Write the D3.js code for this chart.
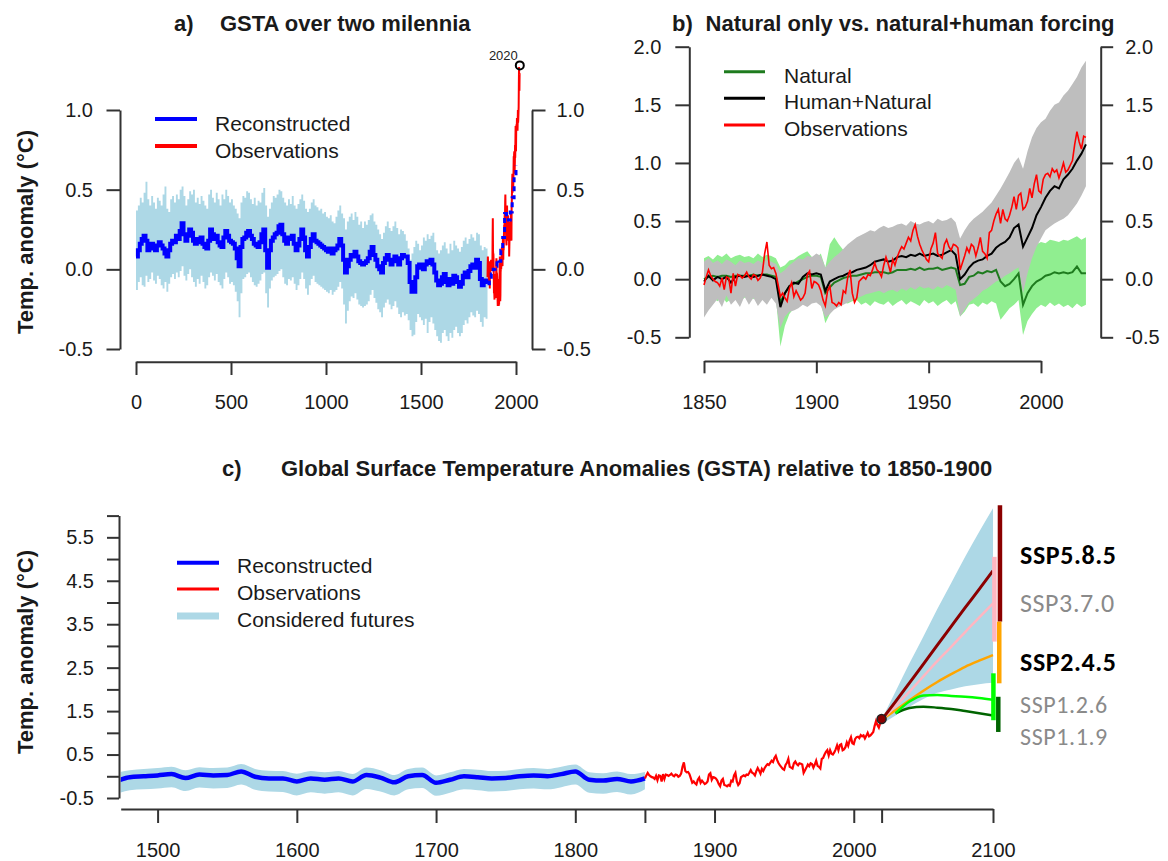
<!DOCTYPE html>
<html><head><meta charset="utf-8">
<script src="https://cdn.jsdelivr.net/npm/d3@7"></script>
<style>
body{margin:0;background:#fff}
svg{display:block}
</style></head><body>
<svg id="chart" width="1168" height="861"></svg>
<script>
// ---------------- DATA ----------------
// Panel a: reconstruction (10-year steps, years 0..2000)
const reconAYears = d3.range(0, 2001, 10);
const reconA = [
0.08,0.12,0.16,0.19,0.21,0.18,0.12,0.14,0.16,0.13,
0.12,0.15,0.17,0.15,0.13,0.10,0.08,0.12,0.16,0.18,
0.17,0.21,0.19,0.24,0.29,0.22,0.18,0.21,0.25,0.23,
0.18,0.16,0.19,0.17,0.20,0.16,0.14,0.13,0.18,0.25,
0.22,0.19,0.21,0.17,0.15,0.14,0.20,0.24,0.21,0.18,
0.17,0.16,0.13,0.07,0.02,0.14,0.19,0.20,0.23,0.24,
0.21,0.19,0.16,0.15,0.14,0.17,0.22,0.25,0.12,0.01,
0.12,0.18,0.20,0.22,0.23,0.27,0.28,0.22,0.18,0.16,
0.20,0.19,0.21,0.16,0.12,0.15,0.19,0.25,0.20,0.12,
0.08,0.14,0.19,0.22,0.18,0.17,0.16,0.15,0.14,0.13,
0.12,0.11,0.13,0.10,0.12,0.13,0.15,0.19,0.15,0.06,
-0.02,0.02,0.06,0.09,0.08,0.11,0.08,0.05,0.04,0.03,
0.04,0.05,0.07,0.11,0.14,0.09,0.06,0.02,0.00,-0.02,
0.04,0.07,0.09,0.06,0.03,0.05,0.08,0.05,0.03,0.07,
0.09,0.08,0.08,0.04,-0.08,-0.14,-0.14,-0.05,0.02,0.03,
0.01,0.00,0.03,0.05,0.04,0.06,0.03,-0.02,-0.07,-0.10,
-0.09,-0.05,-0.03,-0.08,-0.10,-0.06,-0.09,-0.04,-0.05,-0.08,
-0.11,-0.09,-0.04,-0.02,-0.05,-0.01,0.02,0.03,0.01,0.06,
0.04,-0.06,-0.10,-0.08,-0.07,-0.09,-0.05,-0.03,0.00,0.02,
0.06,0.05,0.12,0.20,0.35,0.33,0.31,0.36,0.45,0.60,
0.65];
// Panel a: uncertainty band (years 0..1850)
const bandAYears = d3.range(0, 1851, 10);
const bandAHi = [
0.37,0.40,0.45,0.42,0.48,0.55,0.44,0.40,0.46,0.42,
0.38,0.45,0.43,0.40,0.47,0.52,0.38,0.36,0.44,0.46,
0.42,0.47,0.44,0.50,0.52,0.46,0.40,0.44,0.49,0.47,
0.50,0.42,0.45,0.41,0.46,0.43,0.40,0.38,0.47,0.50,
0.45,0.42,0.48,0.44,0.40,0.47,0.44,0.50,0.46,0.42,
0.44,0.40,0.38,0.35,0.32,0.42,0.46,0.45,0.49,0.48,
0.44,0.41,0.45,0.40,0.43,0.42,0.48,0.51,0.40,0.33,
0.38,0.42,0.46,0.45,0.47,0.50,0.49,0.45,0.42,0.40,
0.44,0.41,0.46,0.40,0.38,0.41,0.44,0.47,0.43,0.38,
0.36,0.38,0.42,0.44,0.40,0.39,0.37,0.38,0.35,0.36,
0.33,0.32,0.34,0.30,0.29,0.33,0.37,0.40,0.35,0.32,
0.25,0.30,0.33,0.35,0.31,0.36,0.33,0.28,0.30,0.26,
0.30,0.28,0.31,0.34,0.35,0.30,0.28,0.25,0.22,0.19,
0.23,0.27,0.30,0.26,0.24,0.27,0.30,0.26,0.22,0.25,
0.24,0.22,0.18,0.13,0.06,0.10,0.14,0.18,0.16,0.12,
0.15,0.20,0.18,0.22,0.19,0.21,0.23,0.17,0.12,0.10,
0.12,0.15,0.17,0.13,0.10,0.16,0.12,0.18,0.15,0.13,
0.11,0.14,0.18,0.20,0.16,0.19,0.22,0.20,0.18,0.23,
0.22,0.15,0.12,0.14,0.13,0.10];
const bandALo = [
-0.13,-0.08,-0.05,-0.10,-0.11,-0.04,-0.08,-0.06,-0.02,-0.07,
-0.09,-0.04,-0.06,-0.10,-0.12,-0.08,-0.14,-0.09,-0.05,-0.03,
-0.06,-0.02,-0.05,-0.01,0.02,-0.04,-0.07,-0.03,0.00,-0.05,
-0.08,-0.11,-0.06,-0.09,-0.04,-0.08,-0.12,-0.10,-0.05,-0.02,
-0.04,-0.07,-0.03,-0.08,-0.10,-0.12,-0.06,-0.02,-0.05,-0.09,
-0.08,-0.10,-0.14,-0.20,-0.30,-0.15,-0.06,-0.05,-0.03,-0.02,
-0.05,-0.08,-0.10,-0.11,-0.09,-0.07,-0.03,-0.02,-0.15,-0.24,
-0.12,-0.07,-0.05,-0.04,-0.03,-0.01,0.00,-0.05,-0.09,-0.10,
-0.06,-0.07,-0.05,-0.09,-0.13,-0.10,-0.06,-0.02,-0.06,-0.12,
-0.16,-0.10,-0.06,-0.04,-0.08,-0.09,-0.10,-0.11,-0.12,-0.13,
-0.14,-0.15,-0.13,-0.16,-0.14,-0.13,-0.11,-0.08,-0.12,-0.22,
-0.34,-0.26,-0.20,-0.17,-0.18,-0.15,-0.19,-0.22,-0.23,-0.24,
-0.23,-0.22,-0.20,-0.16,-0.13,-0.18,-0.21,-0.25,-0.27,-0.30,
-0.24,-0.21,-0.19,-0.22,-0.25,-0.23,-0.20,-0.24,-0.28,-0.30,
-0.27,-0.29,-0.28,-0.32,-0.38,-0.42,-0.41,-0.33,-0.28,-0.30,
-0.32,-0.35,-0.31,-0.40,-0.33,-0.30,-0.34,-0.38,-0.42,-0.45,
-0.46,-0.40,-0.38,-0.42,-0.45,-0.40,-0.43,-0.38,-0.36,-0.40,
-0.42,-0.40,-0.35,-0.32,-0.34,-0.30,-0.27,-0.29,-0.30,-0.26,
-0.28,-0.33,-0.36,-0.30,-0.31,-0.25];
const markA = [{year: 2020, value: 1.28, label: "2020"}];

// Observations (annual, 1850..2020, relative to 1850-1900)
const obsYears = d3.range(1850, 2021);
const obs = [
-0.05,0.02,0.08,0.03,0.00,-0.02,-0.03,-0.06,0.01,-0.09,
0.02,0.01,-0.12,0.05,-0.06,0.04,0.03,0.01,0.03,0.06,
0.02,0.00,0.04,0.03,-0.01,0.01,0.06,0.22,0.32,0.12,
0.09,0.10,0.05,-0.05,-0.15,-0.12,-0.16,-0.19,-0.08,-0.03,
-0.15,-0.10,-0.14,-0.18,-0.16,-0.12,0.04,0.07,-0.08,-0.02,
-0.03,-0.05,-0.10,-0.18,-0.23,-0.10,-0.06,-0.20,-0.21,-0.23,
-0.20,-0.22,-0.10,-0.12,0.02,0.08,-0.12,-0.20,-0.16,-0.02,
0.00,0.02,0.00,0.04,0.03,0.08,0.14,0.08,0.06,0.02,
0.12,0.19,0.13,0.06,0.17,0.12,0.19,0.24,0.28,0.26,
0.31,0.36,0.33,0.42,0.47,0.37,0.30,0.25,0.21,0.17,
0.15,0.26,0.31,0.40,0.22,0.20,0.18,0.30,0.34,0.28,
0.25,0.30,0.29,0.27,0.08,0.14,0.20,0.27,0.23,0.30,
0.28,0.20,0.27,0.36,0.24,0.22,0.18,0.40,0.42,0.50,
0.56,0.60,0.48,0.60,0.52,0.50,0.55,0.62,0.71,0.60,
0.72,0.74,0.60,0.62,0.67,0.78,0.70,0.82,0.90,0.76,
0.74,0.86,0.90,0.91,0.88,0.95,0.92,0.94,0.87,0.93,
1.00,0.92,0.94,0.98,1.02,1.16,1.27,1.18,1.12,1.23,
1.22];

// Panel b: model simulations (2-year steps 1850..2020)
const simYears = d3.range(1850, 2021, 2);
const natLine = [
0.00,0.02,0.03,0.02,0.03,0.03,0.02,0.03,0.03,0.03,
0.03,0.04,0.03,0.04,0.04,0.03,0.02,-0.20,-0.12,-0.06,
-0.04,-0.02,0.00,0.02,0.03,0.03,0.02,-0.12,-0.07,-0.03,
-0.01,0.01,0.02,0.03,0.03,0.04,0.05,0.05,0.06,0.06,
0.06,0.05,0.06,0.08,0.08,0.08,0.09,0.08,0.10,0.08,
0.09,0.09,0.10,0.08,0.09,0.10,0.09,-0.05,-0.04,0.02,
0.03,0.06,0.05,0.07,0.06,0.08,-0.02,-0.06,-0.04,0.00,
0.05,-0.22,-0.12,-0.06,-0.02,0.00,0.03,0.04,0.06,0.05,
0.06,0.05,0.06,0.11,0.05,0.05];
const natHi = [
0.18,0.20,0.17,0.21,0.19,0.22,0.18,0.20,0.21,0.19,
0.20,0.18,0.22,0.19,0.21,0.20,0.18,0.10,0.12,0.16,
0.17,0.20,0.22,0.24,0.19,0.18,0.22,0.10,0.30,0.36,
0.30,0.25,0.24,0.22,0.20,0.23,0.24,0.22,0.25,0.24,
0.24,0.26,0.25,0.27,0.28,0.27,0.28,0.30,0.29,0.28,
0.30,0.29,0.31,0.28,0.30,0.31,0.29,0.15,0.18,0.24,
0.26,0.28,0.27,0.29,0.28,0.30,0.20,0.18,0.22,0.26,
0.28,0.10,0.18,0.24,0.30,0.32,0.31,0.34,0.33,0.32,
0.34,0.33,0.35,0.37,0.34,0.36];
const natLo = [
-0.18,-0.20,-0.16,-0.19,-0.15,-0.20,-0.17,-0.14,-0.19,-0.16,
-0.15,-0.17,-0.14,-0.16,-0.15,-0.14,-0.16,-0.58,-0.40,-0.30,
-0.25,-0.22,-0.18,-0.20,-0.17,-0.18,-0.20,-0.38,-0.30,-0.25,
-0.22,-0.20,-0.21,-0.19,-0.18,-0.22,-0.20,-0.23,-0.19,-0.21,
-0.22,-0.19,-0.23,-0.20,-0.18,-0.22,-0.19,-0.21,-0.23,-0.18,
-0.21,-0.19,-0.23,-0.20,-0.18,-0.22,-0.19,-0.32,-0.28,-0.22,
-0.21,-0.24,-0.20,-0.22,-0.19,-0.21,-0.35,-0.30,-0.25,-0.22,
-0.18,-0.48,-0.36,-0.30,-0.25,-0.22,-0.24,-0.20,-0.23,-0.21,
-0.24,-0.22,-0.25,-0.21,-0.24,-0.22];
const hnLine = [
-0.02,0.03,-0.01,0.02,0.00,0.02,-0.03,0.02,0.03,0.02,
0.03,0.02,0.03,0.04,0.03,0.02,0.00,-0.24,-0.12,-0.06,
-0.03,-0.04,0.02,0.05,0.04,0.05,0.04,-0.10,-0.02,0.00,
0.02,0.03,0.05,0.06,0.08,0.09,0.10,0.12,0.15,0.16,
0.17,0.15,0.16,0.19,0.20,0.19,0.21,0.20,0.22,0.20,
0.21,0.22,0.20,0.21,0.23,0.25,0.21,0.00,0.04,0.10,
0.14,0.16,0.17,0.20,0.22,0.27,0.30,0.32,0.36,0.44,
0.47,0.28,0.36,0.44,0.55,0.62,0.70,0.76,0.80,0.78,
0.86,0.90,0.95,1.02,1.08,1.16];
const hnHi = [
0.15,0.18,0.14,0.16,0.13,0.17,0.15,0.12,0.16,0.14,
0.15,0.13,0.16,0.14,0.17,0.15,0.13,0.05,0.08,0.12,
0.15,0.18,0.17,0.20,0.19,0.22,0.20,0.10,0.15,0.19,
0.22,0.26,0.30,0.33,0.36,0.38,0.40,0.42,0.41,0.44,
0.46,0.44,0.45,0.47,0.48,0.46,0.50,0.48,0.47,0.49,
0.50,0.48,0.52,0.50,0.51,0.53,0.49,0.35,0.42,0.48,
0.52,0.55,0.58,0.62,0.66,0.72,0.78,0.85,0.92,1.00,
1.05,0.95,1.10,1.22,1.30,1.35,1.38,1.45,1.50,1.52,
1.58,1.62,1.68,1.74,1.82,1.88];
const hnLo = [
-0.33,-0.27,-0.22,-0.17,-0.24,-0.14,-0.22,-0.18,-0.24,-0.15,
-0.22,-0.16,-0.23,-0.18,-0.22,-0.16,-0.21,-0.42,-0.32,-0.28,
-0.27,-0.25,-0.22,-0.24,-0.21,-0.20,-0.23,-0.33,-0.30,-0.26,
-0.24,-0.22,-0.20,-0.18,-0.16,-0.15,-0.13,-0.12,-0.11,-0.10,
-0.12,-0.10,-0.09,-0.11,-0.08,-0.10,-0.07,-0.09,-0.06,-0.08,
-0.07,-0.09,-0.06,-0.08,-0.05,-0.07,-0.09,-0.32,-0.26,-0.20,
-0.17,-0.14,-0.10,-0.08,-0.05,-0.02,0.00,0.03,0.05,0.08,
0.10,-0.12,0.05,0.18,0.28,0.35,0.42,0.45,0.48,0.50,
0.52,0.55,0.60,0.65,0.72,0.80];

// Panel c: reconstruction 1470..1850 (10-year)
const reconCYears = d3.range(1470, 1851, 10);
const reconC = [
-0.12,-0.02,0.00,0.02,0.05,-0.04,0.04,0.02,0.03,0.11,
-0.01,-0.05,-0.05,-0.12,-0.05,-0.08,-0.05,-0.12,0.03,-0.03,
-0.14,0.00,0.03,-0.15,-0.08,0.00,-0.02,-0.05,-0.04,0.00,
0.02,0.00,0.05,0.11,-0.08,-0.10,-0.06,-0.12,-0.05];
const reconCHi = [
0.08,0.14,0.17,0.19,0.22,0.14,0.21,0.19,0.20,0.28,
0.17,0.13,0.12,0.06,0.12,0.09,0.12,0.05,0.20,0.14,
0.03,0.17,0.20,0.02,0.09,0.17,0.15,0.12,0.13,0.17,
0.19,0.17,0.22,0.27,0.09,0.07,0.11,0.05,0.10];
const reconCLo = [
-0.42,-0.32,-0.30,-0.28,-0.25,-0.34,-0.26,-0.28,-0.27,-0.19,
-0.31,-0.35,-0.36,-0.44,-0.37,-0.40,-0.37,-0.44,-0.29,-0.35,
-0.44,-0.30,-0.27,-0.45,-0.38,-0.30,-0.32,-0.35,-0.34,-0.30,
-0.28,-0.30,-0.25,-0.19,-0.38,-0.40,-0.36,-0.42,-0.30];
// Panel c: futures
const futYears = [2020,2030,2040,2050,2060,2070,2080,2090,2100];
const futHi = [1.30,1.95,2.60,3.22,3.85,4.45,5.05,5.62,6.17];
const futLo = [1.20,1.40,1.60,1.78,1.92,2.00,2.07,2.12,2.15];
const ssp585 = [1.30,1.72,2.15,2.58,3.02,3.45,3.88,4.30,4.73];
const ssp370 = [1.30,1.62,1.95,2.30,2.65,2.98,3.32,3.65,3.98];
const ssp245 = [1.30,1.52,1.75,1.97,2.17,2.35,2.52,2.66,2.79];
const lowYears = [2030,2040,2050,2060,2070,2080,2090,2100];
const ssp126 = [1.45,1.72,1.86,1.87,1.85,1.83,1.80,1.76];
const ssp119 = [1.45,1.57,1.60,1.58,1.55,1.50,1.45,1.40];
const markC = [{year: 2020, value: 1.32}];
// SSP ranges at 2100 (bars) and labels
const sspNames  = ["SSP5.8.5","SSP3.7.0","SSP2.4.5","SSP1.2.6","SSP1.1.9"];
const sspColors = ["#8B0000","#FFB6C1","#FFA500","#00FF00","#006400"];
const sspBarYear = [2105, 2101, 2104.5, 2100.3, 2103.8];
const sspBarLo = [3.56, 3.10, 2.14, 1.29, 1.02];
const sspBarHi = [6.24, 5.05, 3.56, 2.37, 1.83];
const sspLabelAt = [5.09, 3.98, 2.63, 1.64, 0.91];
const sspLabelBold = [true, false, true, false, false];
const sspLabelColor = ["#000", "#8a8a8a", "#000", "#8a8a8a", "#8a8a8a"];
const sspLabelSize = [26, 26, 26, 24, 24];

// tick values
const aYTicks = [-0.5, 0, 0.5, 1.0];
const aXTicks = [0, 500, 1000, 1500, 2000];
const bYTicks = [-0.5, 0, 0.5, 1.0, 1.5, 2.0];
const bXTicks = [1850, 1900, 1950, 2000];
const cYTicks = [-0.5,0,0.5,1,1.5,2,2.5,3,3.5,4,4.5,5,5.5,6];
const cXTicks = [1500,1600,1700,1800,1850,1900,2000,2020,2100];
const cXLabeled = [1500,1600,1700,1800,1900,2000,2100];

// ---------------- DRAWING ----------------
const svg = d3.select("#chart");
const FONT = "'Liberation Sans', Arial, Helvetica, sans-serif";
const AXC = "#333", TXT = "#1a1a1a";
const f1 = d => d.toFixed(1);
function styleAxis(g, fs) {
  g.attr("font-family", FONT).attr("font-size", fs);
  g.select(".domain").attr("stroke", AXC).attr("stroke-width", 2);
  g.selectAll(".tick line").attr("stroke", AXC).attr("stroke-width", 2);
  g.selectAll(".tick text").attr("fill", TXT);
}
function txt(x, y, s, size, weight, opts) {
  const t = svg.append("text").attr("x", x).attr("y", y).attr("font-family", (opts && opts.family) || FONT)
    .attr("font-size", size).attr("font-weight", weight || "normal").attr("fill", (opts && opts.fill) || TXT).text(s);
  return t;
}
const zip = (xs, ys) => xs.map((x, i) => [x, ys[i]]);

// ===== Panel a =====
const xa = d3.scaleLinear().domain([0, 2000]).range([136, 516]);
const ya = d3.scaleLinear().domain([-0.5, 1]).range([349, 110]);
const ga = svg.append("g");
ga.append("path").datum(bandAYears.map((y, i) => [y, bandALo[i], bandAHi[i]]))
  .attr("fill", "#ADD8E6")
  .attr("d", d3.area().curve(d3.curveStepAfter).x(d => xa(d[0])).y0(d => ya(d[1])).y1(d => ya(d[2])));
const lineA = d3.line().curve(d3.curveStepAfter).x(d => xa(d[0])).y(d => ya(d[1]));
const reconAPts = zip(reconAYears, reconA);
ga.append("path").datum(reconAPts.filter(d => d[0] <= 1850))
  .attr("fill", "none").attr("stroke", "#0000FF").attr("stroke-width", 4).attr("d", lineA);
ga.append("path").datum(zip(obsYears, obs))
  .attr("fill", "none").attr("stroke", "#FF0000").attr("stroke-width", 2)
  .attr("d", d3.line().x(d => xa(d[0])).y(d => ya(d[1])));
ga.append("path").datum(reconAPts.filter(d => d[0] >= 1850))
  .attr("fill", "none").attr("stroke", "#0000FF").attr("stroke-width", 3).attr("stroke-dasharray", "5,4").attr("d", lineA);
ga.selectAll("circle.m").data(markA).join("circle").attr("class", "m")
  .attr("cx", d => xa(d.year)).attr("cy", d => ya(d.value)).attr("r", 4)
  .attr("fill", "none").attr("stroke", "#000").attr("stroke-width", 2);
ga.selectAll("text.m").data(markA).join("text").attr("class", "m")
  .attr("x", d => xa(d.year) - 2).attr("y", d => ya(d.value) - 5).attr("text-anchor", "end")
  .attr("font-family", FONT).attr("font-size", 13).attr("fill", "#222").text(d => d.label);

const aL = ga.append("g").attr("transform", "translate(120,0)")
  .call(d3.axisLeft(ya).tickValues(aYTicks).tickFormat(f1).tickSize(13.5).tickPadding(13.5).tickSizeOuter(0));
styleAxis(aL, 20);
const aR = ga.append("g").attr("transform", "translate(532,0)")
  .call(d3.axisRight(ya).tickValues(aYTicks).tickFormat(f1).tickSize(13.5).tickPadding(11).tickSizeOuter(0));
styleAxis(aR, 20);
const aB = ga.append("g").attr("transform", "translate(0,361.7)")
  .call(d3.axisBottom(xa).tickValues(aXTicks).tickFormat(d => d).tickSize(13.3).tickPadding(20).tickSizeOuter(0));
styleAxis(aB, 20);

// legend a
const legA = [{label: "Reconstructed", color: "#0000FF", y: 119}, {label: "Observations", color: "#FF0000", y: 146}];
legA.forEach(d => {
  svg.append("line").attr("x1", 155).attr("x2", 197).attr("y1", d.y).attr("y2", d.y).attr("stroke", d.color).attr("stroke-width", 4);
  txt(215, d.y + 11.5, d.label, 21);
});
// titles
txt(174, 31, "a)", 22, "bold");
txt(220, 31, "GSTA over two milennia", 22, "bold");
svg.append("text").attr("transform", "translate(33,232) rotate(-90)").attr("text-anchor", "middle")
  .attr("font-family", FONT).attr("font-size", 22).attr("font-weight", "bold").attr("fill", TXT).text("Temp. anomaly (°C)");

// ===== Panel b =====
const xb = d3.scaleLinear().domain([1850, 2000]).range([704, 1041]);
const yb = d3.scaleLinear().domain([-0.5, 2]).range([337.3, 46.7]);
const gb = svg.append("g");
const areaB = d3.area().x(d => xb(d[0])).y0(d => yb(d[1])).y1(d => yb(d[2]));
gb.append("path").datum(simYears.map((y, i) => [y, natLo[i], natHi[i]])).attr("fill", "#90EE90").attr("d", areaB);
gb.append("path").datum(simYears.map((y, i) => [y, hnLo[i], hnHi[i]])).attr("fill", "#BEBEBE").attr("d", areaB);
const lineB = d3.line().x(d => xb(d[0])).y(d => yb(d[1]));
gb.append("path").datum(zip(simYears, natLine)).attr("fill", "none").attr("stroke", "#1E7B1E").attr("stroke-width", 2).attr("d", lineB);
gb.append("path").datum(zip(simYears, hnLine)).attr("fill", "none").attr("stroke", "#000").attr("stroke-width", 2).attr("d", lineB);
gb.append("path").datum(zip(obsYears, obs)).attr("fill", "none").attr("stroke", "#FF0000").attr("stroke-width", 1.6).attr("d", lineB);

const bL = gb.append("g").attr("transform", "translate(689.3,0)")
  .call(d3.axisLeft(yb).tickValues(bYTicks).tickFormat(f1).tickSize(14).tickPadding(14).tickSizeOuter(0));
styleAxis(bL, 20);
const bR = gb.append("g").attr("transform", "translate(1100.7,0)")
  .call(d3.axisRight(yb).tickValues(bYTicks).tickFormat(f1).tickSize(12.5).tickPadding(12).tickSizeOuter(0));
styleAxis(bR, 20);
const bB = gb.append("g").attr("transform", "translate(0,361)")
  .call(d3.axisBottom(xb).tickValues(bXTicks).tickFormat(d => d).tickSize(12.3).tickPadding(21).tickSizeOuter(0));
styleAxis(bB, 20);

const legB = [{label: "Natural", color: "#1E7B1E", y: 71.7}, {label: "Human+Natural", color: "#000", y: 98.3}, {label: "Observations", color: "#FF0000", y: 125}];
legB.forEach(d => {
  svg.append("line").attr("x1", 724).attr("x2", 765).attr("y1", d.y).attr("y2", d.y).attr("stroke", d.color).attr("stroke-width", 3);
  txt(784, d.y + 11, d.label, 21);
});
txt(672, 31, "b)", 22, "bold");
txt(705.6, 31, "Natural only vs. natural+human forcing", 22, "bold");

// ===== Panel c =====
const xc = d3.scaleLinear().domain([1473.5, 2100]).range([120.7, 993]);
const yc = d3.scaleLinear().domain([-0.5, 6]).range([798, 515.6]);
svg.append("defs").append("clipPath").attr("id", "clipc").append("rect")
  .attr("x", xc(1473.5)).attr("y", 480).attr("width", 1168 - xc(1473.5)).attr("height", 330);
const gc = svg.append("g").attr("clip-path", "url(#clipc)");
gc.append("path").datum(reconCYears.map((y, i) => [y, reconCLo[i], reconCHi[i]]))
  .attr("fill", "#ADD8E6")
  .attr("d", d3.area().curve(d3.curveMonotoneX).x(d => xc(d[0])).y0(d => yc(d[1])).y1(d => yc(d[2])));
gc.append("path").datum(futYears.map((y, i) => [y, futLo[i], futHi[i]]))
  .attr("fill", "#ADD8E6")
  .attr("d", d3.area().curve(d3.curveMonotoneX).x(d => xc(d[0])).y0(d => yc(d[1])).y1(d => yc(d[2])));
gc.append("path").datum(zip(reconCYears, reconC)).attr("fill", "none").attr("stroke", "#0000FF").attr("stroke-width", 4.5)
  .attr("d", d3.line().curve(d3.curveMonotoneX).x(d => xc(d[0])).y(d => yc(d[1])));
gc.append("path").datum(zip(obsYears, obs)).attr("fill", "none").attr("stroke", "#FF0000").attr("stroke-width", 2.2)
  .attr("d", d3.line().x(d => xc(d[0])).y(d => yc(d[1])));
const lineC = d3.line().curve(d3.curveMonotoneX).x(d => xc(d[0])).y(d => yc(d[1]));
const sspLines = [
  {ys: lowYears, vs: ssp119, color: "#006400", w: 2.5},
  {ys: futYears, vs: ssp245, color: "#FFA500", w: 2.5},
  {ys: futYears, vs: ssp370, color: "#FFB6C1", w: 2.5},
  {ys: futYears, vs: ssp585, color: "#8B0000", w: 3},
  {ys: lowYears, vs: ssp126, color: "#00FF00", w: 2.5}
];
sspLines.forEach(s => {
  gc.append("path").datum(zip(s.ys, s.vs)).attr("fill", "none").attr("stroke", s.color).attr("stroke-width", s.w).attr("d", lineC);
});
gc.selectAll("circle.m").data(markC).join("circle").attr("class", "m")
  .attr("cx", d => xc(d.year)).attr("cy", d => yc(d.value)).attr("r", 4.5)
  .attr("fill", "#8B0000").attr("stroke", "#222").attr("stroke-width", 1.5);
// range bars
gc.selectAll("line.bar").data(sspNames.map((n, i) => i)).join("line").attr("class", "bar")
  .attr("x1", i => xc(sspBarYear[i])).attr("x2", i => xc(sspBarYear[i]))
  .attr("y1", i => yc(sspBarLo[i])).attr("y2", i => yc(sspBarHi[i]))
  .attr("stroke", i => sspColors[i]).attr("stroke-width", 4.5);
// labels
sspNames.forEach((n, i) => {
  svg.append("text").attr("x", 1020).attr("y", yc(sspLabelAt[i]) + sspLabelSize[i] * 0.35)
    .attr("font-family", "Carlito, Calibri, Lato, 'Open Sans', sans-serif").attr("font-size", sspLabelSize[i])
    .attr("letter-spacing", 0.6)
    .attr("font-weight", sspLabelBold[i] ? "bold" : "normal").attr("fill", sspLabelColor[i]).text(n);
});

const cL = svg.append("g").attr("transform", "translate(119,0)")
  .call(d3.axisLeft(yc).tickValues(cYTicks).tickFormat(d => (Math.round(d * 10) % 10 !== 0) ? f1(d) : "")
    .tickSize(12).tickPadding(13).tickSizeOuter(0));
styleAxis(cL, 20);
const cB = svg.append("g").attr("transform", "translate(0,809)")
  .call(d3.axisBottom(xc).tickValues(cXTicks).tickFormat(d => cXLabeled.includes(d) ? d : "")
    .tickSize(14).tickPadding(20).tickSizeOuter(0));
styleAxis(cB, 20);

const legC = [{label: "Reconstructed", color: "#0000FF", y: 562.7, w: 4}, {label: "Observations", color: "#FF0000", y: 589, w: 3}, {label: "Considered futures", color: "#ADD8E6", y: 616, w: 7}];
legC.forEach(d => {
  svg.append("line").attr("x1", 177).attr("x2", 219).attr("y1", d.y).attr("y2", d.y).attr("stroke", d.color).attr("stroke-width", d.w);
  txt(237, d.y + 10.5, d.label, 21);
});
txt(222, 476, "c)", 22, "bold");
txt(281, 476, "Global Surface Temperature Anomalies (GSTA) relative to 1850-1900", 22, "bold");
svg.append("text").attr("transform", "translate(33,652) rotate(-90)").attr("text-anchor", "middle")
  .attr("font-family", FONT).attr("font-size", 22).attr("font-weight", "bold").attr("fill", TXT).text("Temp. anomaly (°C)");
</script>
</body></html>
